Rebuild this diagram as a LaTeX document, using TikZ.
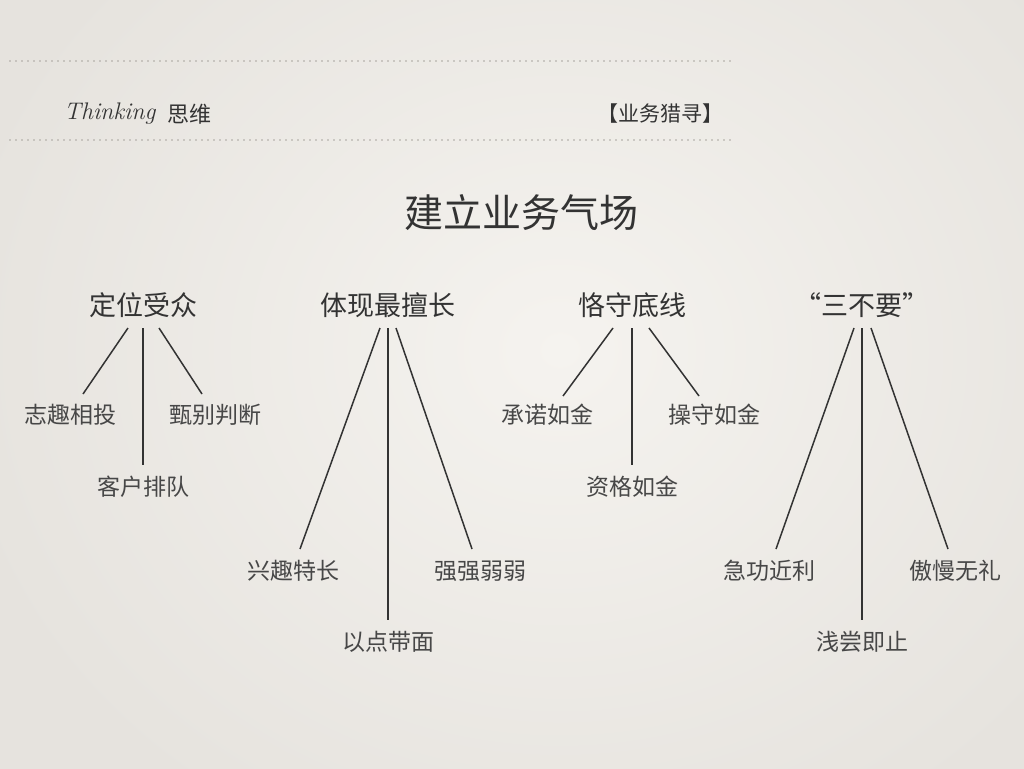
\documentclass[tikz,border=0pt]{standalone}
\usepackage{fontspec}
\newfontfamily\cjk{Noto Sans CJK SC}
\usetikzlibrary{calc}
\definecolor{bgin}{HTML}{F5F3EF}
\definecolor{bgout}{HTML}{E6E3DE}
\definecolor{ink}{HTML}{333333}
\definecolor{dotc}{HTML}{A8A49E}
\tikzset{
  head/.style={inner sep=0pt, text=ink, font=\cjk\fontsize{27}{30}\selectfont},
  leaf/.style={inner sep=0pt, text=ink!90, font=\cjk\fontsize{23}{26}\selectfont},
  link/.style={draw=ink, line width=1.5pt},
  dotline/.style={draw=dotc, line width=1.8pt, line cap=round, dash pattern=on 0pt off 6pt}
}
\begin{document}
\begin{tikzpicture}[x=1pt,y=-1pt]
\useasboundingbox (0,0) rectangle (1024,768);
\shade[inner color=bgin, outer color=bgout] (-60,-200) rectangle (1180,900);
% header
\coordinate (d1a) at (10,61); \coordinate (d1b) at (735,61);
\coordinate (d2a) at (10,140); \coordinate (d2b) at (735,140);
\draw[dotline] (d1a) -- (d1b);
\draw[dotline] (d2a) -- (d2b);
\node[anchor=west, inner sep=0pt, text=ink, font=\itshape\fontsize{24}{26}\selectfont] (think) at (64,114) {Thinking};
\node[anchor=west, inner sep=0pt, text=ink, font=\cjk\fontsize{22}{26}\selectfont] (siwei) at (167,114) {思维};
\node[inner sep=0pt, text=ink, font=\cjk\fontsize{21}{26}\selectfont] (tag) at (660,114) {【业务猎寻】};
% title
\node[inner sep=0pt, text=ink, font=\cjk\fontsize{39}{42}\selectfont] (title) at (521,213) {建立业务气场};
% groups
\node[head] (g1) at (143,305) {定位受众};
\node[head] (g2) at (388,305) {体现最擅长};
\node[head] (g3) at (632,305) {恪守底线};
\node[head] (g4) at (862,305) {“三不要”};
% leaves
\node[leaf] (a1) at (70,415) {志趣相投};
\node[leaf] (a2) at (143,487) {客户排队};
\node[leaf] (a3) at (215,415) {甄别判断};
\node[leaf] (b1) at (293,571) {兴趣特长};
\node[leaf] (b2) at (388,642) {以点带面};
\node[leaf] (b3) at (480,571) {强强弱弱};
\node[leaf] (c1) at (547,415) {承诺如金};
\node[leaf] (c2) at (632,487) {资格如金};
\node[leaf] (c3) at (714,415) {操守如金};
\node[leaf] (e1) at (769,571) {急功近利};
\node[leaf] (e2) at (862,642) {浅尝即止};
\node[leaf] (e3) at (955,571) {傲慢无礼};
% links
\draw[link] ($(g1)+(-15,23)$) -- ($(a1)+(13,-21)$);
\draw[link] ($(g1)+(0,23)$) -- ($(a2)+(0,-22)$);
\draw[link] ($(g1)+(16,23)$) -- ($(a3)+(-13,-21)$);
\draw[link] ($(g2)+(-8,23)$) -- ($(b1)+(7,-22)$);
\draw[link] ($(g2)+(0,23)$) -- ($(b2)+(0,-22)$);
\draw[link] ($(g2)+(8,23)$) -- ($(b3)+(-8,-22)$);
\draw[link] ($(g3)+(-19,23)$) -- ($(c1)+(16,-19)$);
\draw[link] ($(g3)+(0,23)$) -- ($(c2)+(0,-22)$);
\draw[link] ($(g3)+(17,23)$) -- ($(c3)+(-15,-19)$);
\draw[link] ($(g4)+(-8,23)$) -- ($(e1)+(7,-22)$);
\draw[link] ($(g4)+(0,23)$) -- ($(e2)+(0,-22)$);
\draw[link] ($(g4)+(9,23)$) -- ($(e3)+(-7,-22)$);
\end{tikzpicture}
\end{document}
